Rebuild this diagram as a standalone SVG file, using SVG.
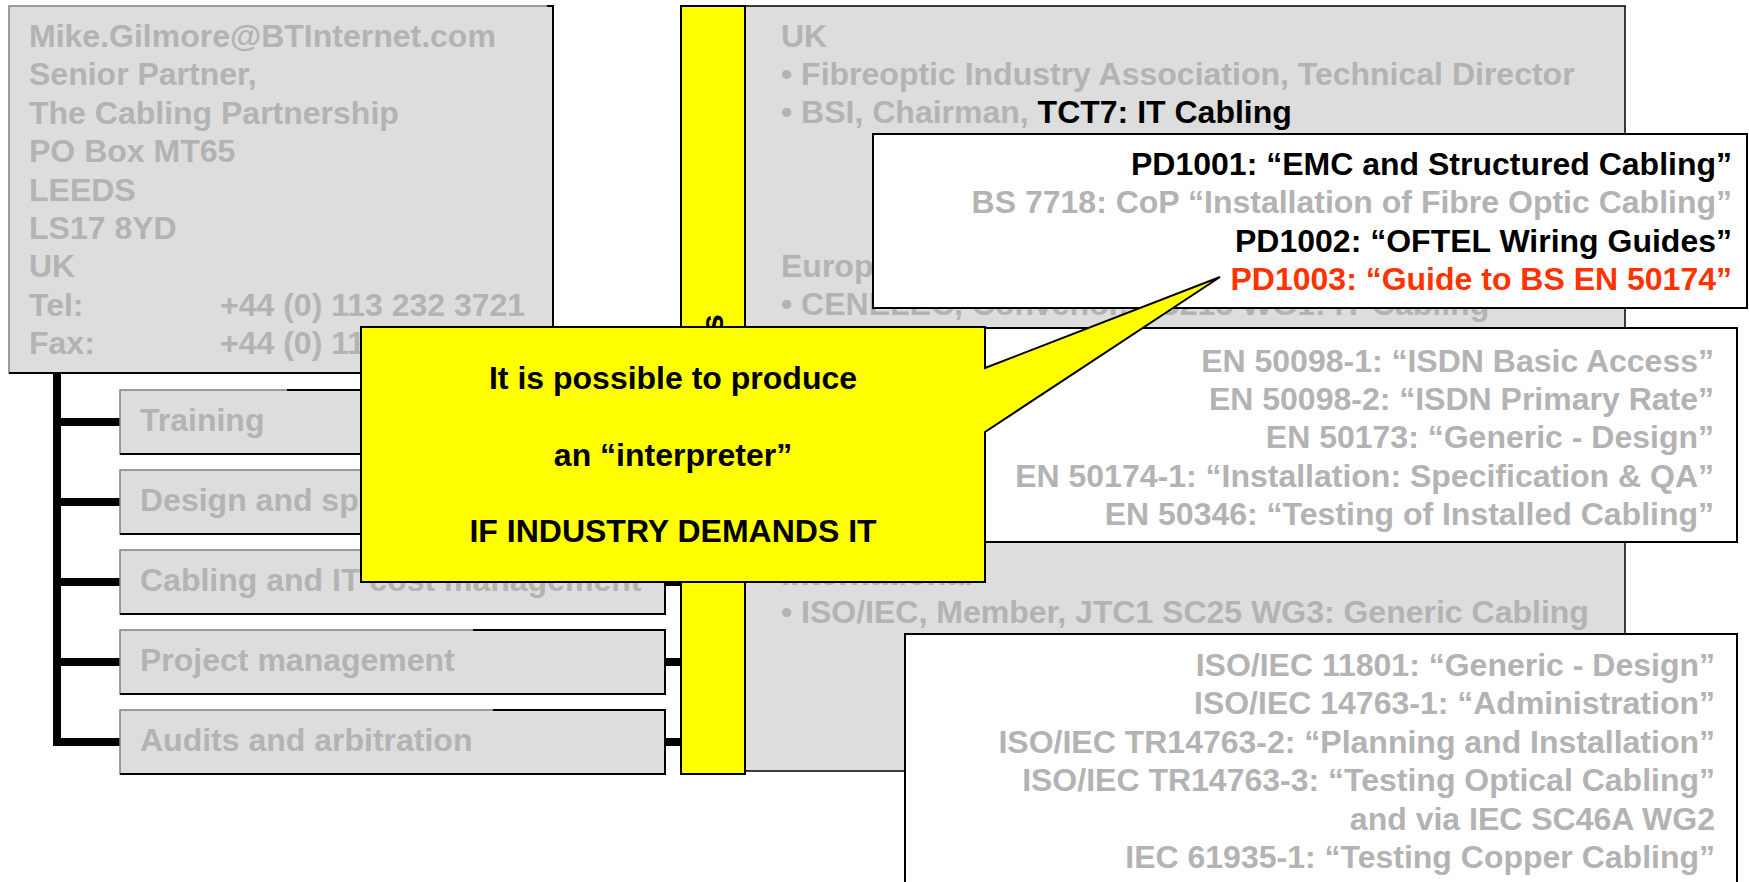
<svg xmlns="http://www.w3.org/2000/svg" width="1749" height="882" viewBox="0 0 1749 882">
<style>
text{font-family:"Liberation Sans",Arial,sans-serif;font-weight:bold;font-size:32px}
.g{fill:#b3b3b3}
.k{fill:#000}
.r{fill:#ff3300}
.e{text-anchor:end}
.m{text-anchor:middle}
.gbox{fill:#dddddd;stroke:#808080;stroke-width:1.5}
.edge{fill:none;stroke:#000;stroke-width:2}
.wbox{fill:#ffffff;stroke:#000;stroke-width:2}
.conn{stroke:#000;stroke-width:8;fill:none}
.yel{fill:#ffff00;stroke:#000;stroke-width:2}
</style>
<g id="panel">
<rect x="745" y="6" width="880" height="765" fill="#dddddd" stroke="#000" stroke-width="1.5"/>
<text class="g" x="781" y="47">UK</text>
<text class="g" x="781" y="85">• Fibreoptic Industry Association, Technical Director</text>
<text class="g" x="781" y="123">• BSI, Chairman, <tspan class="k">TCT7: IT Cabling</tspan></text>
<text class="g" x="781" y="277">Europe</text>
<text class="g" x="781" y="315">• CENELEC, Convenor, TC215 WG1: IT Cabling</text>
<text class="g" x="781" y="585">International</text>
<text class="g" x="781" y="623">• ISO/IEC, Member, JTC1 SC25 WG3: Generic Cabling</text>
</g>
<g id="bar">
<rect class="yel" x="681" y="6" width="64" height="768"/>
<text class="k" transform="translate(723,332) rotate(-90)">s</text>
</g>
<g id="contact">
<rect class="gbox" x="9" y="6" width="544" height="367"/>
<path class="edge" d="M547,6 H553 V373 H9"/>
<text class="g" x="29" y="47">Mike.Gilmore@BTInternet.com</text>
<text class="g" x="29" y="85.4">Senior Partner,</text>
<text class="g" x="29" y="123.8">The Cabling Partnership</text>
<text class="g" x="29" y="162.2">PO Box MT65</text>
<text class="g" x="29" y="200.6">LEEDS</text>
<text class="g" x="29" y="239">LS17 8YD</text>
<text class="g" x="29" y="277.4">UK</text>
<text class="g" x="29" y="315.8">Tel:</text>
<text class="g" x="220" y="315.8">+44 (0) 113 232 3721</text>
<text class="g" x="29" y="354.2">Fax:</text>
<text class="g" x="220" y="354.2">+44 (0) 11</text>
</g>
<g id="connectors">
<path class="conn" d="M57,373 V746"/>
<path class="conn" d="M53,422 H120 M53,502 H120 M53,582 H120 M53,662 H120 M53,742 H120"/>
<path class="conn" d="M665,422 H681 M665,502 H681 M665,582 H681 M665,662 H681 M665,742 H681"/>
</g>
<g id="training">
<rect class="gbox" x="120" y="390" width="545" height="64"/>
<path class="edge" d="M287,390 H665 V454 H120"/>
<text class="g" x="140" y="431">Training</text>
</g>
<g id="design">
<rect class="gbox" x="120" y="470" width="545" height="64"/>
<path class="edge" d="M380,470 H665 V534 H120"/>
<text class="g" x="140" y="511">Design and specification</text>
</g>
<g id="cabling">
<rect class="gbox" x="120" y="550" width="545" height="64"/>
<path class="edge" d="M420,550 H665 V614 H120"/>
<text class="g" x="140" y="591">Cabling and IT cost management</text>
</g>
<g id="project">
<rect class="gbox" x="120" y="630" width="545" height="64"/>
<path class="edge" d="M473,630 H665 V694 H120"/>
<text class="g" x="140" y="671">Project management</text>
</g>
<g id="audits">
<rect class="gbox" x="120" y="710" width="545" height="64"/>
<path class="edge" d="M493,710 H665 V774 H120"/>
<text class="g" x="140" y="751">Audits and arbitration</text>
</g>
<g id="pd-box">
<rect class="wbox" x="873" y="134" width="874" height="174"/>
<text class="k e" x="1732" y="175">PD1001: “EMC and Structured Cabling”</text>
<text class="g e" x="1732" y="213">BS 7718: CoP “Installation of Fibre Optic Cabling”</text>
<text class="k e" x="1732" y="252">PD1002: “OFTEL Wiring Guides”</text>
<text class="r e" x="1732" y="290">PD1003: “Guide to BS EN 50174”</text>
</g>
<g id="en-box">
<rect class="wbox" x="985" y="328" width="752" height="214"/>
<text class="g e" x="1714" y="372">EN 50098-1: “ISDN Basic Access”</text>
<text class="g e" x="1714" y="410">EN 50098-2: “ISDN Primary Rate”</text>
<text class="g e" x="1714" y="448">EN 50173: “Generic - Design”</text>
<text class="g e" x="1714" y="487">EN 50174-1: “Installation: Specification &amp; QA”</text>
<text class="g e" x="1714" y="525">EN 50346: “Testing of Installed Cabling”</text>
</g>
<g id="iso-box">
<rect class="wbox" x="905" y="634" width="832" height="270"/>
<text class="g e" x="1715" y="676">ISO/IEC 11801: “Generic - Design”</text>
<text class="g e" x="1715" y="714">ISO/IEC 14763-1: “Administration”</text>
<text class="g e" x="1715" y="753">ISO/IEC TR14763-2: “Planning and Installation”</text>
<text class="g e" x="1715" y="791">ISO/IEC TR14763-3: “Testing Optical Cabling”</text>
<text class="g e" x="1715" y="830">and via IEC SC46A WG2</text>
<text class="g e" x="1715" y="868">IEC 61935-1: “Testing Copper Cabling”</text>
</g>
<g id="callout">
<path class="yel" d="M361,327 H985 V368 L1220,277 L985,432 V582 H361 Z"/>
<text class="k m" x="673" y="389">It is possible to produce</text>
<text class="k m" x="673" y="466">an “interpreter”</text>
<text class="k m" x="673" y="542">IF INDUSTRY DEMANDS IT</text>
</g>
</svg>
